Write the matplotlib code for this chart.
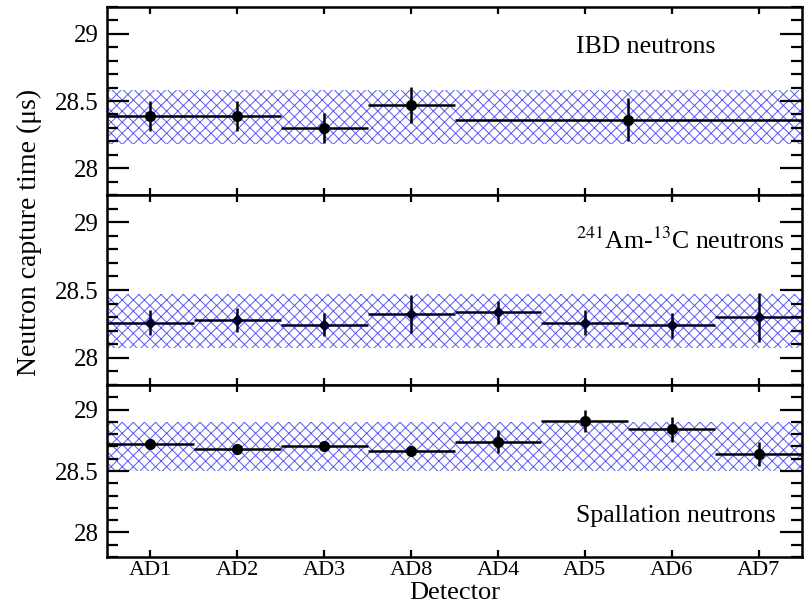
import numpy as np
import matplotlib
matplotlib.use("Agg")
import matplotlib.pyplot as plt
from matplotlib.ticker import MultipleLocator, FixedLocator

plt.rcParams['font.family'] = ['Liberation Serif', 'DejaVu Serif']
plt.rcParams['mathtext.fontset'] = 'stix'
plt.rcParams['hatch.linewidth'] = 0.7

# detectors, in the order on the x axis
detectors = ['AD1', 'AD2', 'AD3', 'AD8', 'AD4', 'AD5', 'AD6', 'AD7']

# IBD: AD1, AD2, AD3, AD8 single, AD4-AD7 combined
ibd_x = [0, 1, 2, 3, 5.5]
ibd_xerr = [0.5, 0.5, 0.5, 0.5, 2.0]
ibd_y = [28.39, 28.39, 28.30, 28.47, 28.36]
ibd_yerr = [0.11, 0.11, 0.11, 0.135, 0.16]
ibd_band = (28.18, 28.58)

# 241Am-13C
amc_y = [28.26, 28.28, 28.245, 28.32, 28.335, 28.26, 28.24, 28.30]
amc_yerr = [0.09, 0.09, 0.085, 0.14, 0.085, 0.09, 0.09, 0.18]
amc_band = (28.07, 28.47)

# spallation
spa_y = [28.72, 28.68, 28.70, 28.66, 28.74, 28.91, 28.84, 28.64]
spa_yerr = [0.02, 0.02, 0.02, 0.02, 0.09, 0.09, 0.10, 0.10]
spa_band = (28.50, 28.90)

labels = ['IBD neutrons', r'$^{241}$Am-$^{13}$C neutrons', 'Spallation neutrons']
label_y = [28.90, 28.86, 28.13]

fig = plt.figure(figsize=(8.06, 6.04), dpi=100)
gs = fig.add_gridspec(3, 1, height_ratios=[188, 190, 172], hspace=0,
                      left=0.1328, right=0.995, top=0.9884, bottom=0.0778)
axes = [fig.add_subplot(gs[i]) for i in range(3)]

xpos = np.arange(len(detectors))
data = [
    (ibd_x, ibd_xerr, ibd_y, ibd_yerr, ibd_band, 'o', 'black'),
    (list(xpos), [0.5] * 8, amc_y, amc_yerr, amc_band, 'D', '#000028'),
    (list(xpos), [0.5] * 8, spa_y, spa_yerr, spa_band, 'o', 'black'),
]

for i, ax in enumerate(axes):
    x, xe, y, ye, band, mk, col = data[i]
    ax.fill_between([-0.5, 7.5], band[0], band[1], facecolor='none',
                    edgecolor='#5a5af5', hatch='xxx', linewidth=0, zorder=1)
    ax.errorbar(x, y, xerr=xe, yerr=ye, fmt=mk, color=col, ms=7 if mk == 'o' else 5.5,
                elinewidth=1.8, capsize=0, zorder=3)
    ax.text(0.675, label_y[i], labels[i], transform=ax.get_yaxis_transform(),
            ha='left', va='center', fontsize=18.5)

    ax.set_xlim(-0.5, 7.5)
    ax.set_ylim(27.8, 29.2)
    ax.yaxis.set_major_locator(FixedLocator([28, 28.5, 29]))
    ax.yaxis.set_minor_locator(MultipleLocator(0.1))
    ax.set_yticklabels(['28', '28.5', '29'])
    ax.set_xticks(xpos)
    ax.tick_params(axis='y', which='major', direction='in', length=16, width=1.6,
                   left=True, right=True, labelsize=18, pad=6)
    ax.tick_params(axis='y', which='minor', direction='in', length=8, width=1.6,
                   left=True, right=True)
    ax.tick_params(axis='x', which='major', direction='in', length=5, width=1.6,
                   top=True, bottom=True, labelsize=16, pad=3)
    for s in ax.spines.values():
        s.set_linewidth(1.8)
    if i < 2:
        ax.tick_params(axis='x', labelbottom=False)
    else:
        ax.set_xticklabels(detectors)

fig.text(455 / 806, 1 - 599 / 604, 'Detector', ha='center', va='baseline', fontsize=19)
fig.text(29 / 806, 1 - 232 / 604, 'Neutron capture time (μs)', rotation=90,
         ha='center', va='center', fontsize=20)

fig.savefig('out.png', dpi=100)
